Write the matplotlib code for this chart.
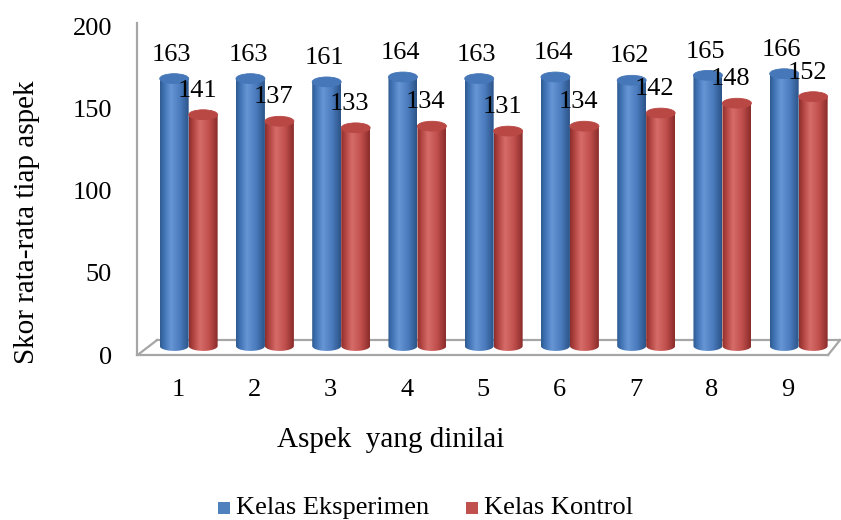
import matplotlib
matplotlib.use("Agg")
import matplotlib.pyplot as plt
import numpy as np
from matplotlib.colors import LinearSegmentedColormap
from matplotlib.patches import Polygon, Ellipse, Rectangle
from matplotlib.lines import Line2D

# Average score per aspect for the two classes
aspects = ["1", "2", "3", "4", "5", "6", "7", "8", "9"]
eksperimen = [163, 163, 161, 164, 163, 164, 162, 165, 166]
kontrol = [141, 137, 133, 134, 131, 134, 142, 148, 152]
series_names = ["Kelas Eksperimen", "Kelas Kontrol"]
yticks = [0, 50, 100, 150, 200]

plt.rcParams['font.family'] = ['Liberation Serif', 'DejaVu Serif']
FS = 19
FS_LABEL = 21

# cylinder geometry (data units)
BAR_W = 0.38
BLUE_OFF = -0.05
RED_OFF = 0.33
DEPTH = 5.5        # bars sit a bit behind the front edge of the floor
ELL_H = 6.0        # height of the cap ellipses
FLOOR_BACK = 9.1

blue_cmap = LinearSegmentedColormap.from_list(
    "blue_cyl", [(0, "#2f5b91"), (0.15, "#4274b6"), (0.38, "#6696d4"),
                 (0.7, "#4a7bbd"), (1, "#2c5488")])
red_cmap = LinearSegmentedColormap.from_list(
    "red_cyl", [(0, "#8e2f2d"), (0.15, "#b24542"), (0.38, "#d66c69"),
                (0.7, "#c04f4c"), (1, "#8a2d2b")])
blue_top = "#4677b8"
red_top = "#b94845"

fig = plt.figure(figsize=(8.41, 5.2), dpi=100)
ax = fig.add_axes([137 / 841, 165 / 520, 703 / 841, 332 / 520])
x0 = 1 - 41 / 76.25
x1 = 1 + 662 / 76.25
ax.set_xlim(x0, x1)
ax.set_ylim(0, 202.4)
for s in ax.spines.values():
    s.set_visible(False)

grad = np.linspace(0, 1, 64).reshape(1, -1)


def cylinder(xc, height, cmap, cap_color, z):
    left, right = xc - BAR_W / 2, xc + BAR_W / 2
    top = DEPTH + height
    th = np.linspace(0, np.pi, 40)
    bottom = np.column_stack([xc + BAR_W / 2 * np.cos(th),
                              DEPTH - ELL_H / 2 * np.sin(th)])
    pts = np.vstack([[[left, top], [right, top]], bottom, [[left, DEPTH]]])
    body = Polygon(pts, closed=True, facecolor="none", edgecolor="none")
    ax.add_patch(body)
    im = ax.imshow(grad, cmap=cmap, extent=(left, right, DEPTH - ELL_H / 2, top),
                   aspect="auto", interpolation="bilinear", zorder=z)
    im.set_clip_path(body)
    ax.add_patch(Ellipse((xc, top), BAR_W, ELL_H, facecolor=cap_color,
                         edgecolor=cap_color, lw=0.6, zorder=z + 0.1))


# floor and left wall
line_kw = dict(color="#a6a6a6", lw=1.6, clip_on=False, zorder=1)
ax.add_line(Line2D([x0, x0], [0, 202.4], **line_kw))
ax.add_line(Line2D([x0, 9.525], [0, 0], **line_kw))
ax.add_line(Line2D([0.725, x1], [FLOOR_BACK, FLOOR_BACK], **line_kw))
ax.add_line(Line2D([x0 + 0.03, 0.725], [0.8, FLOOR_BACK], **line_kw))
ax.add_line(Line2D([9.525, x1], [0, FLOOR_BACK], **line_kw))

pos = np.arange(1, len(aspects) + 1)
for i, p in enumerate(pos):
    cylinder(p + BLUE_OFF, eksperimen[i], blue_cmap, blue_top, 3 + i * 0.01)
    cylinder(p + RED_OFF, kontrol[i], red_cmap, red_top, 4 + i * 0.01)

# value labels above each cylinder
for i, p in enumerate(pos):
    ax.text(p + BLUE_OFF - 0.03, DEPTH + eksperimen[i] + 14.5, str(eksperimen[i]),
            ha="center", va="center", fontsize=FS, zorder=10)
    ax.text(p + RED_OFF - 0.08, DEPTH + kontrol[i] + 14.5, str(kontrol[i]),
            ha="center", va="center", fontsize=FS, zorder=10)

ax.set_xticks(pos)
ax.set_xticklabels(aspects, fontsize=FS)
ax.set_yticks(yticks)
ax.set_yticklabels([str(v) for v in yticks], fontsize=FS)
ax.tick_params(axis="x", length=0, pad=17)
ax.tick_params(axis="y", length=0, pad=18)

fig.text(391 / 841, 1 - 440 / 520, "Aspek  yang dinilai", ha="center", va="center",
         fontsize=FS_LABEL)
fig.text(27 / 841, 1 - 222 / 520, "Skor rata-rata tiap aspek", ha="center",
         va="center", rotation=90, fontsize=FS_LABEL)

# legend
leg_y = 1 - 508 / 520
sq_w, sq_h = 12 / 841, 12 / 520
fig.patches.append(Rectangle((218 / 841, leg_y - sq_h / 2), sq_w, sq_h,
                             facecolor="#4f81bd", transform=fig.transFigure))
fig.text(236 / 841, leg_y, series_names[0], ha="left", va="center", fontsize=FS)
fig.patches.append(Rectangle((466 / 841, leg_y - sq_h / 2), sq_w, sq_h,
                             facecolor="#c0504d", transform=fig.transFigure))
fig.text(484 / 841, leg_y, series_names[1], ha="left", va="center", fontsize=FS)

fig.savefig("out.png", dpi=100)
